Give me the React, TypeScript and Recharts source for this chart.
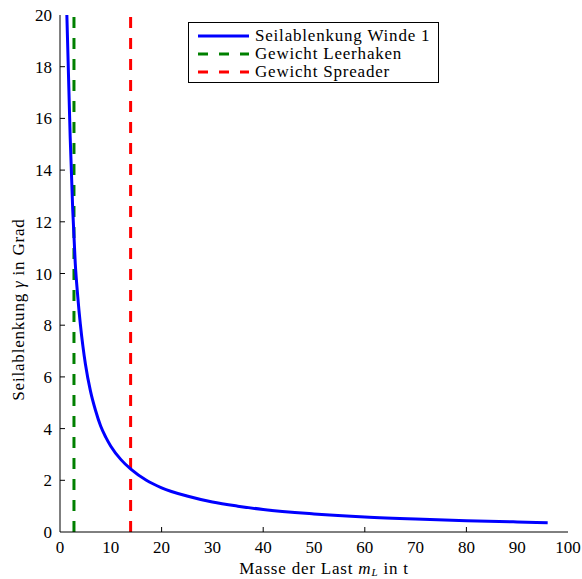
import { LineChart, Line, XAxis, YAxis, ReferenceLine, Legend, Label } from "recharts";

// Masse der Last in t / Seilablenkung in Grad
const massT = [1.35, 1.6, 2.0, 2.5, 3.0, 3.5, 4.0, 4.5, 5.0, 6.0, 7.0, 8.0, 9.0, 10, 12, 14, 17, 20, 25, 30, 35, 40, 50, 60, 70, 80, 90, 96];
const gammaDeg = [20, 18.2, 15.3, 12.5, 10.4, 9.1, 8.05, 7.2, 6.5, 5.45, 4.7, 4.1, 3.67, 3.32, 2.8, 2.42, 2.0, 1.71, 1.39, 1.16, 1.0, 0.87, 0.7, 0.58, 0.5, 0.44, 0.39, 0.36];

const hookWeight = 2.75;
const spreaderWeight = 13.9;

const xTicks = [0, 10, 20, 30, 40, 50, 60, 70, 80, 90, 100];
const xMarks = [20, 40, 60, 80];
const yTicks = [0, 2, 4, 6, 8, 10, 12, 14, 16, 18, 20];

const seriesNames = ["Seilablenkung Winde 1", "Gewicht Leerhaken", "Gewicht Spreader"];
const seriesColors = ["#0000ff", "#008000", "#ff0000"];

const FONT = "Liberation Serif";
const FS = 17;
const SPACING = 0.8; // CM is wider than Times

const data = massT.map((m, i) => ({ m, gamma: gammaDeg[i] }));

function BottomTick({ x, y, payload }: any) {
  const v = payload.value;
  return (
    <g>
      {xMarks.includes(v) && <line x1={x} x2={x} y1={y} y2={y - 5} stroke="#000" />}
      <text x={x} y={y + 21} textAnchor="middle" style={{ fontFamily: FONT }} fontSize={FS} fill="#000">
        {v}
      </text>
    </g>
  );
}

function TopTick({ x, y, payload }: any) {
  return xMarks.includes(payload.value) ? <line x1={x} x2={x} y1={y} y2={y + 5} stroke="#000" /> : <g />;
}

function LeftTick({ x, y, payload }: any) {
  const v = payload.value;
  return (
    <g>
      {v > 0 && v < 20 && <line x1={x} x2={x + 5} y1={y} y2={y} stroke="#000" />}
      <text x={x - 8} y={y + 6} textAnchor="end" style={{ fontFamily: FONT }} fontSize={FS} fill="#000">
        {v}
      </text>
    </g>
  );
}

function RightTick({ x, y, payload }: any) {
  const v = payload.value;
  return v > 0 && v < 20 ? <line x1={x} x2={x - 5} y1={y} y2={y} stroke="#000" /> : <g />;
}

function XTitle({ viewBox }: any) {
  const cx = viewBox.x + viewBox.width / 2 + 10;
  return (
    <text
      x={cx}
      y={viewBox.y + 42}
      textAnchor="middle"
      style={{ fontFamily: FONT, letterSpacing: SPACING }}
      fontSize={FS}
      fill="#000"
    >
      Masse der Last <tspan fontStyle="italic">m</tspan>
      <tspan fontStyle="italic" fontSize={11} dy={2}>L</tspan>
      <tspan dy={-2}> in t</tspan>
    </text>
  );
}

function YTitle({ viewBox }: any) {
  const cy = viewBox.y + viewBox.height / 2 + 36;
  const cx = 24;
  return (
    <text
      x={cx}
      y={cy}
      textAnchor="middle"
      transform={`rotate(-90 ${cx} ${cy})`}
      style={{ fontFamily: FONT, letterSpacing: SPACING }}
      fontSize={FS}
      fill="#000"
    >
      Seilablenkung <tspan fontStyle="italic">γ</tspan> in Grad
    </text>
  );
}

function LegendBox() {
  return (
    <div
      style={{
        width: 249,
        height: 55,
        paddingTop: 4,
        border: "1px solid #000",
        background: "#fff",
        fontFamily: FONT,
        fontSize: FS,
        letterSpacing: SPACING,
        lineHeight: "18px",
      }}
    >
      {seriesNames.map((name, i) => (
        <div key={name} style={{ display: "flex", alignItems: "center", height: 18 }}>
          <svg width={66} height={18}>
            <line
              x1={9}
              x2={60}
              y1={9}
              y2={9}
              stroke={seriesColors[i]}
              strokeWidth={3}
              strokeDasharray={i === 0 ? undefined : "10 11"}
            />
          </svg>
          <span>{name}</span>
        </div>
      ))}
    </div>
  );
}

export default function App() {
  return (
    <div style={{ position: "absolute", left: 0, top: 0, background: "#fff" }}>
      <LineChart width={582} height={579} data={data} margin={{ top: 15, right: 14, left: 0, bottom: 0 }}>
        <XAxis
          dataKey="m"
          type="number"
          domain={[0, 100]}
          ticks={xTicks}
          interval={0}
          height={47}
          tickSize={0}
          tickMargin={0}
          tick={<BottomTick />}
          axisLine={{ stroke: "#000" }}
        >
          <Label content={<XTitle />} />
        </XAxis>
        <XAxis
          xAxisId="top"
          orientation="top"
          type="number"
          domain={[0, 100]}
          ticks={xTicks}
          interval={0}
          height={0}
          tickSize={0}
          tickMargin={0}
          tick={<TopTick />}
          axisLine={{ stroke: "#000" }}
        />
        <YAxis
          type="number"
          domain={[0, 20]}
          ticks={yTicks}
          interval={0}
          width={60}
          tickSize={0}
          tickMargin={0}
          tick={<LeftTick />}
          allowDataOverflow
          axisLine={{ stroke: "#000" }}
        >
          <Label content={<YTitle />} />
        </YAxis>
        <YAxis
          yAxisId="right"
          orientation="right"
          type="number"
          domain={[0, 20]}
          ticks={yTicks}
          interval={0}
          width={0}
          tickSize={0}
          tickMargin={0}
          tick={<RightTick />}
          axisLine={{ stroke: "#000" }}
        />
        <ReferenceLine x={hookWeight} stroke={seriesColors[1]} strokeWidth={3} strokeDasharray="11 10" />
        <ReferenceLine x={spreaderWeight} stroke={seriesColors[2]} strokeWidth={3} strokeDasharray="11 10" />
        <Line
          type="monotone"
          dataKey="gamma"
          name={seriesNames[0]}
          stroke={seriesColors[0]}
          strokeWidth={3}
          dot={false}
          isAnimationActive={false}
        />
        <Legend
          layout="vertical"
          align="center"
          verticalAlign="middle"
          content={<LegendBox />}
          wrapperStyle={{ left: 188, top: 22, width: 251 }}
        />
      </LineChart>
    </div>
  );
}
